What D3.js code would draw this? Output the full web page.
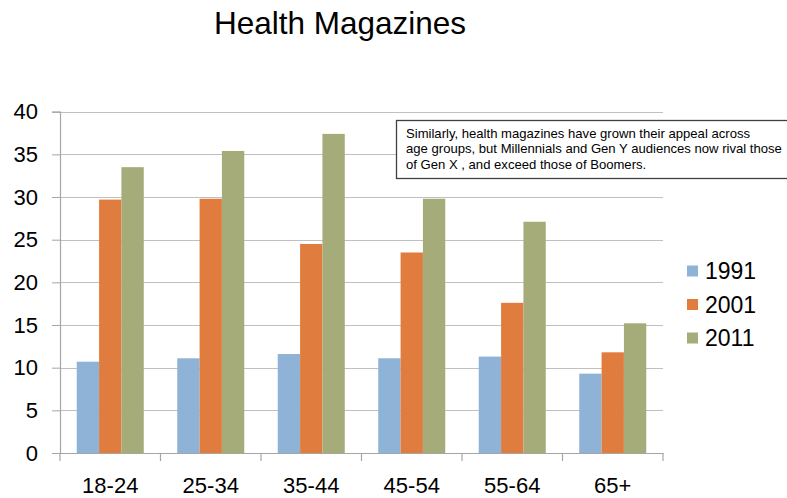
<!DOCTYPE html>
<html><head><meta charset="utf-8">
<script src="https://cdn.jsdelivr.net/npm/d3@7"></script>
<style>body{margin:0;background:#fff}svg{display:block}text{font-family:"Liberation Sans",Arial,sans-serif}</style>
</head><body>
<script>
const categories = ["18-24","25-34","35-44","45-54","55-64","65+"];
const seriesNames = ["1991","2001","2011"];
const v1991 = [10.7,11.1,11.6,11.1,11.3,9.3];
const v2001 = [29.7,29.8,24.5,23.5,17.6,11.8];
const v2011 = [33.5,35.4,37.4,29.8,27.1,15.2];
const yTicks = [0,5,10,15,20,25,30,35,40];
const colors = ["#8FB3D6","#E07D3E","#A6AC79"];
const note = ["Similarly, health magazines have grown their appeal across","age groups, but Millennials and Gen Y audiences now rival those","of Gen X , and exceed those of Boomers."];

const W=787,H=498;
const svg=d3.select("body").append("svg").attr("width",W).attr("height",H);
const L=60,R=663,T=111.7,B=453;
const x=d3.scaleBand().domain(categories).range([L,R]).paddingInner(0.333).paddingOuter(0.1665);
const x0=d3.scaleBand().domain(categories).range([L,R]);
const xs=d3.scaleBand().domain(seriesNames).range([0,x.bandwidth()]);
const y=d3.scaleLinear().domain([0,40]).range([B,T]);

svg.append("text").attr("x",340).attr("y",34).attr("text-anchor","middle").attr("font-size",31.5).text("Health Magazines");

// gridlines
svg.append("g").selectAll("line").data(yTicks.slice(1)).join("line")
  .attr("x1",L).attr("x2",R).attr("y1",d=>Math.round(y(d))+0.5).attr("y2",d=>Math.round(y(d))+0.5)
  .attr("stroke","#C0C0C0").attr("stroke-width",1.2);

// y axis
const ya=svg.append("g").attr("transform",`translate(${L},0)`).call(d3.axisLeft(y).tickValues(yTicks).tickSize(8).tickPadding(14));
ya.select(".domain").attr("stroke","#A6A6A6").attr("stroke-width",1.2);
ya.selectAll(".tick line").attr("stroke","#A6A6A6");
ya.selectAll("text").attr("font-size",22).attr("fill","#000").attr("font-family","Liberation Sans, Arial, sans-serif");

// bars
const data=[v1991,v2001,v2011];
const g=svg.append("g");
seriesNames.forEach((s,i)=>{
  g.selectAll(".b"+i).data(categories).join("rect")
   .attr("x",(c)=>x(c)+xs(s)).attr("width",xs.bandwidth())
   .attr("y",(c,j)=>y(data[i][j])).attr("height",(c,j)=>B-y(data[i][j]))
   .attr("fill",colors[i]);
});

// x axis
const xa=svg.append("g").attr("transform",`translate(0,${B})`).call(d3.axisBottom(x0).tickSize(0));
xa.select(".domain").attr("stroke","#A6A6A6").attr("stroke-width",1.2);
xa.selectAll("text").attr("font-size",22).attr("fill","#000").attr("y",40).attr("dy",0).attr("font-family","Liberation Sans, Arial, sans-serif");
svg.append("g").selectAll("line").data(d3.range(categories.length+1)).join("line")
  .attr("x1",i=>L+i*x0.step()).attr("x2",i=>L+i*x0.step()).attr("y1",B).attr("y2",B+8)
  .attr("stroke","#A6A6A6").attr("stroke-width",1.2);

// legend
const lg=svg.append("g");
seriesNames.forEach((s,i)=>{
  const cy=271+i*33.5;
  lg.append("rect").attr("x",687).attr("y",cy-5.5).attr("width",11).attr("height",11).attr("fill",colors[i]);
  lg.append("text").attr("x",705).attr("y",cy+8).attr("font-size",23).text(s);
});

// annotation
svg.append("rect").attr("x",396.5).attr("y",120.5).attr("width",400).attr("height",58).attr("fill","#fff").attr("stroke","#404040").attr("stroke-width",1.3);
note.forEach((t,i)=>svg.append("text").attr("x",406).attr("y",137.7+i*15.7).attr("font-size",13.1).text(t));
</script>
</body></html>
